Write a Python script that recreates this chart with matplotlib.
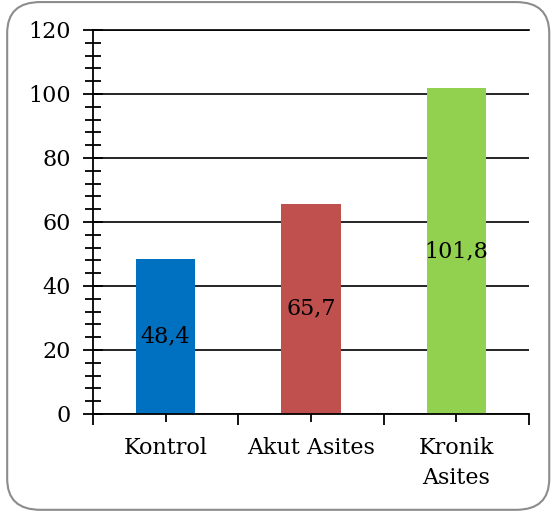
import matplotlib.pyplot as plt
from matplotlib.patches import FancyBboxPatch
from matplotlib.ticker import MultipleLocator, FixedLocator

# data
categories = ["Kontrol", "Akut Asites", "Kronik\nAsites"]
values = [48.4, 65.7, 101.8]
value_labels = ["48,4", "65,7", "101,8"]
colors = ["#0070C0", "#C0504D", "#92D050"]

plt.rcParams["font.family"] = ["DejaVu Serif"]

fig = plt.figure(figsize=(5.52, 5.16), dpi=100)

# rounded border around the chart
border = FancyBboxPatch((0.013, 0.012), 0.982, 0.984,
                        boxstyle="round,pad=0,rounding_size=0.06",
                        transform=fig.transFigure, facecolor="none",
                        edgecolor="#8c8c8c", linewidth=1.5, zorder=-1)
fig.patches.append(border)

ax = fig.add_axes([0.1685, 0.1977, 0.7898, 0.7442])
ax.set_facecolor("none")

x = list(range(len(categories)))
bars = ax.bar(x, values, width=0.41, color=colors, zorder=3)

for xi, v, lab in zip(x, values, value_labels):
    ax.text(xi, v / 2, lab, ha="center", va="center", fontsize=16, zorder=4)

ax.set_xlim(-0.5, 2.5)
ax.set_ylim(0, 120)

ax.yaxis.set_major_locator(MultipleLocator(20))
ax.yaxis.set_minor_locator(MultipleLocator(4))
ax.grid(axis="y", which="major", color="black", linewidth=1.2, zorder=1)

ax.tick_params(axis="y", which="major", direction="inout", length=14,
               width=1.3, labelsize=16, pad=9)
ax.tick_params(axis="y", which="minor", direction="inout", length=12,
               width=1.3)

# x ticks: boundaries go outward, category centers cross the axis
ax.xaxis.set_major_locator(FixedLocator([-0.5, 0.5, 1.5, 2.5]))
ax.xaxis.set_minor_locator(FixedLocator(x))
ax.set_xticklabels([])
ax.set_xticks(x, categories, minor=True)
ax.tick_params(axis="x", which="major", direction="out", length=8, width=1.3)
ax.tick_params(axis="x", which="minor", direction="inout", length=11,
               width=1.3, labelsize=16, pad=11)
for lbl in ax.get_xticklabels(minor=True):
    lbl.set_linespacing(1.45)

ax.spines["right"].set_visible(False)
ax.spines["top"].set_linewidth(1.2)
ax.spines["left"].set_linewidth(1.3)
ax.spines["bottom"].set_linewidth(1.3)
ax.spines["left"].set_zorder(5)
ax.spines["bottom"].set_zorder(5)

fig.savefig("out.png", dpi=100)
